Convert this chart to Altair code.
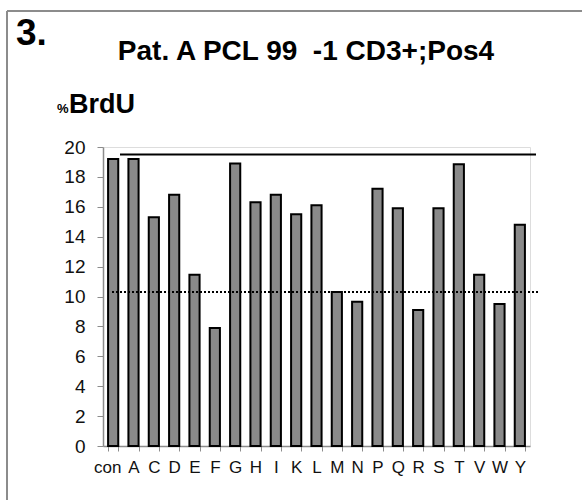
import altair as alt
import pandas as pd

# BrdU incorporation per condition
categories = ["con", "A", "C", "D", "E", "F", "G", "H", "I", "K", "L",
              "M", "N", "P", "Q", "R", "S", "T", "V", "W", "Y"]
brdu = [19.2, 19.2, 15.3, 16.8, 11.45, 7.9, 18.9, 16.3, 16.8, 15.5, 16.1,
        10.3, 9.65, 17.2, 15.9, 9.1, 15.9, 18.85, 11.45, 9.5, 14.8]

upper_level = 19.5   # solid reference line
lower_level = 10.3   # dotted reference line

y_ticks = [0, 2, 4, 6, 8, 10, 12, 14, 16, 18, 20]

df = pd.DataFrame({"cond": categories, "brdu": brdu})

W, H = 427, 299
FONT = "Liberation Sans"

x_scale = alt.Scale(domain=categories, paddingInner=0.5, paddingOuter=0.25)
y_scale = alt.Scale(domain=[0, 20], nice=False)
y_axis = alt.Axis(values=y_ticks, labelFontSize=19, labelFont=FONT,
                  labelColor="#111111", labelPadding=12, labelOverlap=False,
                  domainColor="#8c8c8c", tickColor="#8c8c8c",
                  tickSize=6, domainWidth=1.5, grid=False, title=None)

bars = alt.Chart(df).mark_bar(
    fill="#8a8a8a", stroke="#000000", strokeWidth=2
).encode(
    x=alt.X("cond:N", sort=categories, scale=x_scale, title=None,
            axis=alt.Axis(labelAngle=0, tickBand="extent", labelFontSize=17,
                          labelFont=FONT, labelColor="#111111", labelPadding=8,
                          labelOverlap=False,
                          labelOffset=alt.ExprRef("datum.value == 'con' ? -6 : 0"),
                          domainColor="#8c8c8c", tickColor="#8c8c8c",
                          tickSize=5, domainWidth=1.5, grid=False)),
    y=alt.Y("brdu:Q", scale=y_scale, title=None, axis=y_axis),
)

ref = pd.DataFrame({"level": [upper_level]})
upper = alt.Chart(ref).mark_rule(color="#000000", strokeWidth=2).encode(
    y=alt.Y("level:Q", scale=y_scale, title=None, axis=y_axis),
    x=alt.value(17), x2=alt.value(433),
)
ref2 = pd.DataFrame({"level": [lower_level]})
lower = alt.Chart(ref2).mark_rule(
    color="#000000", strokeWidth=2, strokeDash=[2, 2]
).encode(
    y=alt.Y("level:Q", scale=y_scale, title=None, axis=y_axis),
    x=alt.value(9), x2=alt.value(436),
)

# panel frame (top and left edges)
frame_top = alt.Chart(ref).mark_rule(color="#8c8c8c", strokeWidth=2).encode(
    x=alt.value(-96), x2=alt.value(490), y=alt.value(-136))
frame_left = alt.Chart(ref).mark_rule(color="#8c8c8c", strokeWidth=2).encode(
    x=alt.value(-96), y=alt.value(-136), y2=alt.value(360))

panel_no = alt.Chart(ref).mark_text(
    text="3.", font=FONT, fontSize=37, fontWeight="bold", align="left",
    baseline="alphabetic", color="#000000"
).encode(x=alt.value(-87), y=alt.value(-102))

title = alt.Chart(ref).mark_text(
    text="Pat. A PCL 99\u00a0\u00a0-1 CD3+;Pos4", font=FONT, fontSize=28,
    fontWeight="bold", align="center", baseline="alphabetic", color="#000000"
).encode(x=alt.value(203), y=alt.value(-87))

pct = alt.Chart(ref).mark_text(
    text="%", font=FONT, fontSize=13, fontWeight="bold", align="left",
    baseline="alphabetic", color="#000000"
).encode(x=alt.value(-46), y=alt.value(-34))

ylab = alt.Chart(ref).mark_text(
    text="BrdU", font=FONT, fontSize=27, fontWeight="bold", align="left",
    baseline="alphabetic", color="#000000"
).encode(x=alt.value(-34), y=alt.value(-34))

chart = alt.layer(
    bars, lower, upper, frame_top, frame_left, panel_no, title, pct, ylab
).properties(
    width=W, height=H,
    autosize=alt.AutoSizeParams(type="none"),
    padding={"left": 103, "top": 147, "right": 52, "bottom": 54},
).configure_view(stroke=None).configure(background="#ffffff")

chart.save("out.html", embed_options={"renderer": "svg", "actions": False})
